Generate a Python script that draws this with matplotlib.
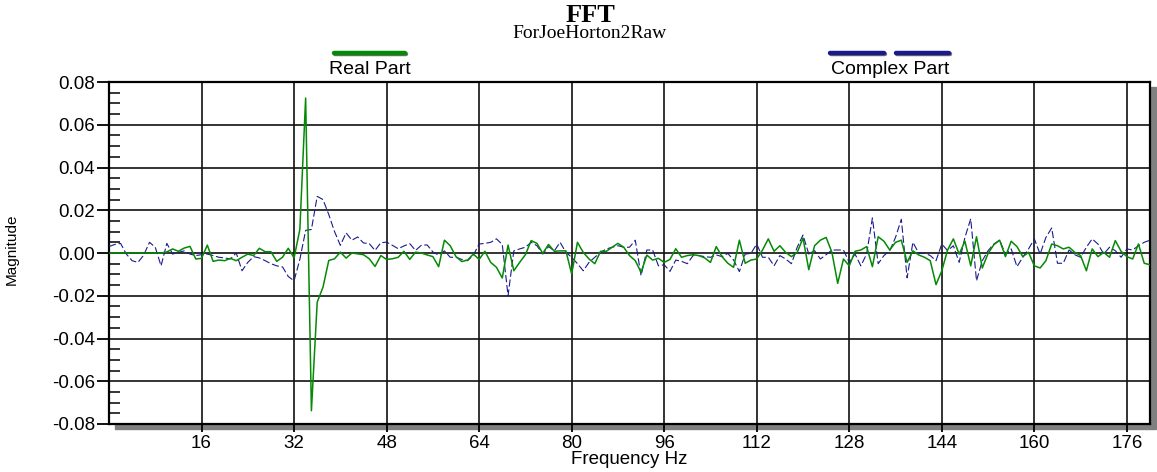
import matplotlib
matplotlib.use('Agg')
import matplotlib.pyplot as plt
from matplotlib.lines import Line2D
from matplotlib.patches import Rectangle
from matplotlib.ticker import MultipleLocator, FormatStrFormatter
import matplotlib.patheffects as pe
import numpy as np

plt.rcParams['font.family'] = ['Liberation Sans', 'DejaVu Sans']
plt.rcParams['axes.unicode_minus'] = False

W, H = 1157, 472  # размер картинки в пикселях

# Данные (шаг 1 Гц)
freq_hz = np.arange(0, 181)

real_part = [
    0, 0, 0, 0, 0, 0, 0, 0, 0, 0,
    0.0005, 0.0019, 0.0008, 0.0023, 0.0031, -0.0028, -0.0025, 0.0037, -0.0039, -0.0033,
    -0.0036, -0.0025, -0.0036, -0.002, -0.0005, -0.0012, 0.0022, 0.0006, 0.0006, -0.0039,
    -0.002, 0.0022, -0.0023, 0.011, 0.0725, -0.0738, -0.023, -0.016, -0.0035, -0.0027,
    0.0004, -0.0024, 0.0, -0.0004, -0.0008, -0.0027, -0.0063, -0.0012, -0.003, -0.0027,
    -0.002, 0.0008, -0.003, 0.0004, 0.0, -0.0009, -0.0017, -0.0064, 0.006, 0.0034,
    -0.0017, -0.004, -0.0033, -0.0005, -0.003, 0.0008, -0.0044, -0.0067, -0.0117, 0.0037,
    -0.0083, -0.0044, -0.0008, 0.0058, 0.0045, -0.0002, 0.004, 0.0008, 0.001, 0.001,
    -0.0098, 0.005, 0.0003, -0.0028, -0.005, 0.0008, 0.0008, 0.0027, 0.0045, 0.0027,
    -0.0012, -0.0036, -0.009, -0.001, -0.0033, -0.0025, -0.0044, -0.003, 0.002, -0.002,
    -0.0012, -0.0008, -0.0012, -0.0023, -0.0044, 0.003, -0.0017, -0.0048, -0.0067, 0.006,
    -0.0048, -0.0033, -0.0028, 0.0014, 0.0066, 0.0008, 0.0034, 0.0003, -0.0017, 0.0003,
    0.007, -0.0078, 0.0034, 0.006, 0.0073, 0.0003, -0.0142, -0.0028, -0.006, 0.0008,
    0.0014, 0.003, -0.0064, 0.0076, 0.0055, 0.0014, 0.005, 0.006, -0.0044, 0.001,
    -0.0009, -0.002, -0.0036, -0.0148, -0.0083, 0.0014, 0.0066, -0.0005, 0.0055, -0.006,
    0.0076, -0.007, -0.0002, 0.0039, 0.006, -0.0017, 0.0055, 0.003, -0.0017, 0.0003,
    -0.006, -0.007, -0.0036, 0.0042, 0.0034, 0.0019, 0.0027, 0.0003, -0.0012, -0.0083,
    0.0019, -0.0017, 0.0003, -0.002, 0.0058, 0.0008, -0.0017, -0.0028, 0.0042, -0.0048,
    -0.0055,
]

complex_part = [
    0.003, 0.004, 0.0045, -0.0005, -0.0036, -0.0044, -0.001, 0.005, 0.0027, -0.006,
    0.0045, -0.0005, 0.0003, 0.001, -0.0005, -0.0012, -0.0008, -0.0005, -0.0012, -0.002,
    -0.0023, -0.0028, 0.0, -0.0083, -0.0044, -0.0017, -0.0023, -0.0036, -0.005, -0.006,
    -0.0065, -0.011, -0.013, -0.003, 0.0106, 0.011, 0.0265, 0.025, 0.018, 0.01,
    0.0036, 0.0094, 0.006, 0.0075, 0.0047, 0.0044, 0.0012, 0.0048, 0.0051, 0.0036,
    0.002, 0.0033, 0.0044, 0.0012, 0.0036, 0.0038, 0.0005, -0.001, 0.001, -0.002,
    -0.002, -0.003, -0.0036, -0.001, 0.0042, 0.0045, 0.005, 0.0066, 0.004, -0.020,
    0.001, 0.0019, 0.0027, 0.005, 0.0034, -0.0005, 0.003, 0.001, 0.005, 0.0003,
    -0.002, -0.005, -0.0083, -0.0044, -0.002, 0.0003, 0.0019, 0.0027, 0.0034, 0.0027,
    0.0027, 0.006, -0.0106, 0.0014, 0.0014, -0.006, -0.0055, -0.0086, -0.0033, -0.0039,
    -0.005, -0.0012, -0.0012, -0.0017, -0.002, -0.0009, -0.0017, -0.0002, -0.0033, -0.0087,
    -0.0005, -0.0002, 0.0042, -0.002, -0.002, -0.006, -0.0012, -0.0028, -0.005, 0.0027,
    0.0084, -0.0005, 0.0011, -0.0028, -0.0008, 0.0014, 0.0014, 0.0014, -0.0044, -0.0005,
    -0.006, -0.0005, 0.0164, -0.005, -0.0012, 0.0011, 0.0073, 0.0158, -0.0116, 0.005,
    0.0, 0.0, -0.0012, -0.0036, 0.0042, 0.0011, 0.0034, -0.0044, 0.0073, 0.016,
    -0.013, -0.0036, 0.0011, 0.0042, 0.006, -0.0005, 0.0019, -0.0064, -0.002, 0.0019,
    0.0066, -0.0005, 0.0073, 0.0117, -0.0048, -0.0048, 0.0014, -0.0008, -0.002, 0.0027,
    0.0066, 0.0042, -0.0005, 0.0027, 0.0011, -0.002, 0.0019, 0.0014, 0.0034, 0.005,
    0.006,
]

x_ticks = [16, 32, 48, 64, 80, 96, 112, 128, 144, 160, 176]

GREEN = '#058a05'
NAVY = '#1a1a8c'


def fx(x):
    return x / W


def fy(y):
    return 1 - y / H


fig = plt.figure(figsize=(W / 100, H / 100), dpi=100)

# тень под рамкой графика
fig.add_artist(Rectangle((fx(115), fy(429)), fx(1156) - fx(115), fy(87) - fy(429),
                         transform=fig.transFigure, color='#808080', zorder=-1))

ax = fig.add_axes([fx(109), fy(424), fx(1150) - fx(109), fy(82) - fy(424)])
ax.set_facecolor('white')

ax.plot(freq_hz, complex_part, color=NAVY, lw=0.8, dashes=(6.5, 2.5), zorder=3)
ax.plot(freq_hz, real_part, color=GREEN, lw=1.1, zorder=4)

ax.set_xlim(0, 180)
ax.set_ylim(-0.08, 0.08)
ax.set_xticks(x_ticks)
ax.yaxis.set_major_locator(MultipleLocator(0.02))
ax.yaxis.set_minor_locator(MultipleLocator(0.005))
ax.yaxis.set_major_formatter(FormatStrFormatter('%.2f'))
ax.tick_params(axis='y', which='major', direction='out', length=9, width=1.3,
               labelsize=13.5, pad=1)
ax.tick_params(axis='y', which='minor', direction='in', length=8, width=1.1)
ax.tick_params(axis='x', which='major', direction='out', length=6, width=1.3,
               labelsize=13.5, pad=2)
ax.grid(True, which='major', color='#111111', lw=1.2)
ax.set_axisbelow(True)
for s in ax.spines.values():
    s.set_linewidth(1.6)
    s.set_color('black')

ax.set_xlabel('Frequency Hz', fontsize=13.5)
ax.xaxis.set_label_coords(0.5, -0.078)
ax.set_ylabel('Magnitude', fontsize=11)
ax.yaxis.set_label_coords(-0.087, 0.51)

# Заголовок
fig.text(fx(590), fy(15), 'FFT', family=['Liberation Serif', 'DejaVu Serif'],
         fontsize=19, fontweight='bold', ha='center', va='center')
fig.text(fx(590), fy(34), 'ForJoeHorton2Raw', family=['Liberation Serif', 'DejaVu Serif'],
         fontsize=14, ha='center', va='center')

# Легенда: линия над подписью
shadow = [pe.SimpleLineShadow(offset=(1, -1), shadow_color='#606060', alpha=0.9), pe.Normal()]
fig.add_artist(Line2D([fx(334), fx(405)], [fy(53), fy(53)], transform=fig.transFigure,
                      color=GREEN, lw=3.2, solid_capstyle='round', path_effects=shadow))
for x0, x1 in [(830, 884), (896, 949)]:
    fig.add_artist(Line2D([fx(x0), fx(x1)], [fy(53), fy(53)], transform=fig.transFigure,
                          color=NAVY, lw=3.2, solid_capstyle='round', path_effects=shadow))
fig.text(fx(370), fy(70), 'Real Part', fontsize=14, ha='center', va='center')
fig.text(fx(890), fy(70), 'Complex Part', fontsize=14, ha='center', va='center')

fig.savefig('out.png', dpi=100)
